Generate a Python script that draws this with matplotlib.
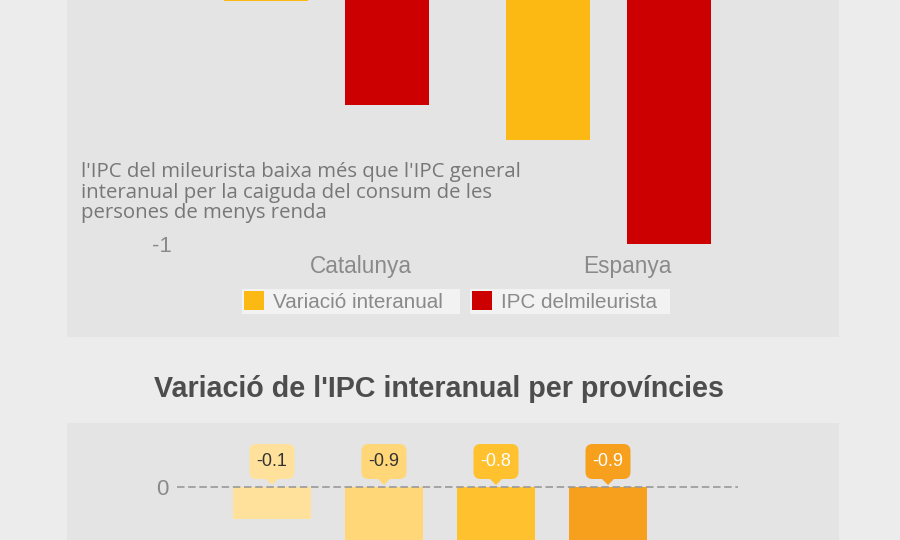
import numpy as np
import matplotlib
matplotlib.use("Agg")
import matplotlib.pyplot as plt
import matplotlib.transforms as mtransforms
from matplotlib.patches import Rectangle, FancyBboxPatch, Polygon

plt.rcParams['font.family'] = ['Liberation Sans', 'DejaVu Sans']

# data
regions = ["Catalunya", "Espanya"]
variacio = [-0.3, -0.7]
mileurista = [-0.6, -1.0]
series_labels = ["Variació interanual", "IPC delmileurista"]
series_colors = ["#fdb913", "#cc0000"]

prov_values = [-0.1, -0.9, -0.8, -0.9]
prov_colors = ["#ffe19c", "#ffd778", "#ffc12e", "#f7a01e"]
prov_text_colors = ["#333333", "#333333", "#ffffff", "#ffffff"]

note = ("l'IPC del mileurista baixa més que l'IPC general\n"
        "interanual per la caiguda del consum de les\n"
        "persones de menys renda")
title2 = "Variació de l'IPC interanual per províncies"

W, H = 900, 540
GRAY = "#8a8a8a"


def fx(px):
    return px / W


def fy(py):
    return 1 - py / H


fig = plt.figure(figsize=(9, 5.4), dpi=100, facecolor="#ececec")

# panel backgrounds
fig.add_artist(Rectangle((fx(67), fy(337)), fx(772), 337 / H + 0.02,
                         transform=fig.transFigure, fc="#e4e4e4", ec="none", zorder=0))
fig.add_artist(Rectangle((fx(67), -0.02), fx(772), (540 - 423) / H + 0.02,
                         transform=fig.transFigure, fc="#e4e4e4", ec="none", zorder=0))

# ---- top chart (bottom part of it is visible)
ax1 = fig.add_axes([fx(67), fy(337), fx(772), 337 / H])
ax1.set_facecolor("none")
x = np.arange(len(regions))
bw = 0.298
b1 = ax1.bar(x - 0.2145, variacio, bw, color=series_colors[0], zorder=2)
b2 = ax1.bar(x + 0.2145, mileurista, bw, color=series_colors[1], zorder=2)
ax1.set_xlim(-0.920, 1.817)
ax1.set_ylim(-1.268, -0.2968)
for s in ax1.spines.values():
    s.set_visible(False)
ax1.set_xticks([])
ax1.set_yticks([-1])
ax1.set_yticklabels(["-1"])
ax1.tick_params(axis='y', length=0, pad=-75.6, labelsize=16, labelcolor=GRAY)

label_dx = [0.122, 0.067]
for i, name in enumerate(regions):
    ax1.text(x[i] + label_dx[i], (337 - 267) / 337, name,
             transform=ax1.get_xaxis_transform(), ha='center', va='center',
             fontsize=16.3, color=GRAY)

fig.text(fx(81), fy(162), note, ha='left', va='top', fontsize=14.7,
         color="#777777", linespacing=1.04, family=['Open Sans', 'DejaVu Sans'])

# legend: two separate items
fig.add_artist(Rectangle((fx(242), fy(314)), fx(218), 25 / H,
                         transform=fig.transFigure, fc="#f2f2f2", ec="none", zorder=1))
fig.add_artist(Rectangle((fx(470), fy(314)), fx(200), 25 / H,
                         transform=fig.transFigure, fc="#f2f2f2", ec="none", zorder=1))
for handle, lab, lx in [(b1, series_labels[0], 244), (b2, series_labels[1], 472)]:
    fig.legend([handle], [lab], loc='center left', bbox_to_anchor=(fx(lx), fy(301.5)),
               frameon=False, handlelength=0.98, handleheight=0.98,
               handletextpad=0.42, borderpad=0.0, borderaxespad=0,
               fontsize=14.9, labelcolor=GRAY)

# ---- bottom chart
fig.text(fx(439), fy(389), title2, ha='center', va='center', fontsize=20.6,
         fontweight='bold', color="#4d4d4d")

ax2 = fig.add_axes([fx(67), 0, fx(772), (540 - 423) / H])
ax2.set_facecolor("none")
xp = np.arange(len(prov_values))
ax2.bar(xp, prov_values, 0.696, color=prov_colors, zorder=2)
ax2.hlines(0, -0.848, 4.161, colors="#999999", linewidth=1.2,
           linestyles=(0, (4.5, 2.2)), zorder=3)

for i, v in enumerate(prov_values):
    tr = fig.dpi_scale_trans + mtransforms.ScaledTranslation(xp[i], 0, ax2.transData)
    box = FancyBboxPatch((-0.225, 0.08), 0.45, 0.35,
                         boxstyle="round,pad=0,rounding_size=0.07",
                         transform=tr, fc=prov_colors[i], ec="none",
                         clip_on=False, zorder=4)
    ax2.add_artist(box)
    tip = Polygon([(-0.065, 0.085), (0.065, 0.085), (0, 0.02)], closed=True,
                  transform=tr, fc=prov_colors[i], ec="none", clip_on=False, zorder=4)
    ax2.add_artist(tip)
    ax2.text(0, 0.255, f"{v:.1f}", transform=tr, ha='center', va='center',
             fontsize=13, color=prov_text_colors[i], zorder=5)

ax2.set_xlim(-1.830, 5.0625)
ax2.set_ylim(-53 / 320, 64 / 320)
for s in ax2.spines.values():
    s.set_visible(False)
ax2.set_xticks([])
ax2.set_yticks([0])
ax2.set_yticklabels(["0"])
ax2.tick_params(axis='y', length=0, pad=-73.4, labelsize=16, labelcolor=GRAY)

fig.savefig("out.png", dpi=100, facecolor=fig.get_facecolor())
